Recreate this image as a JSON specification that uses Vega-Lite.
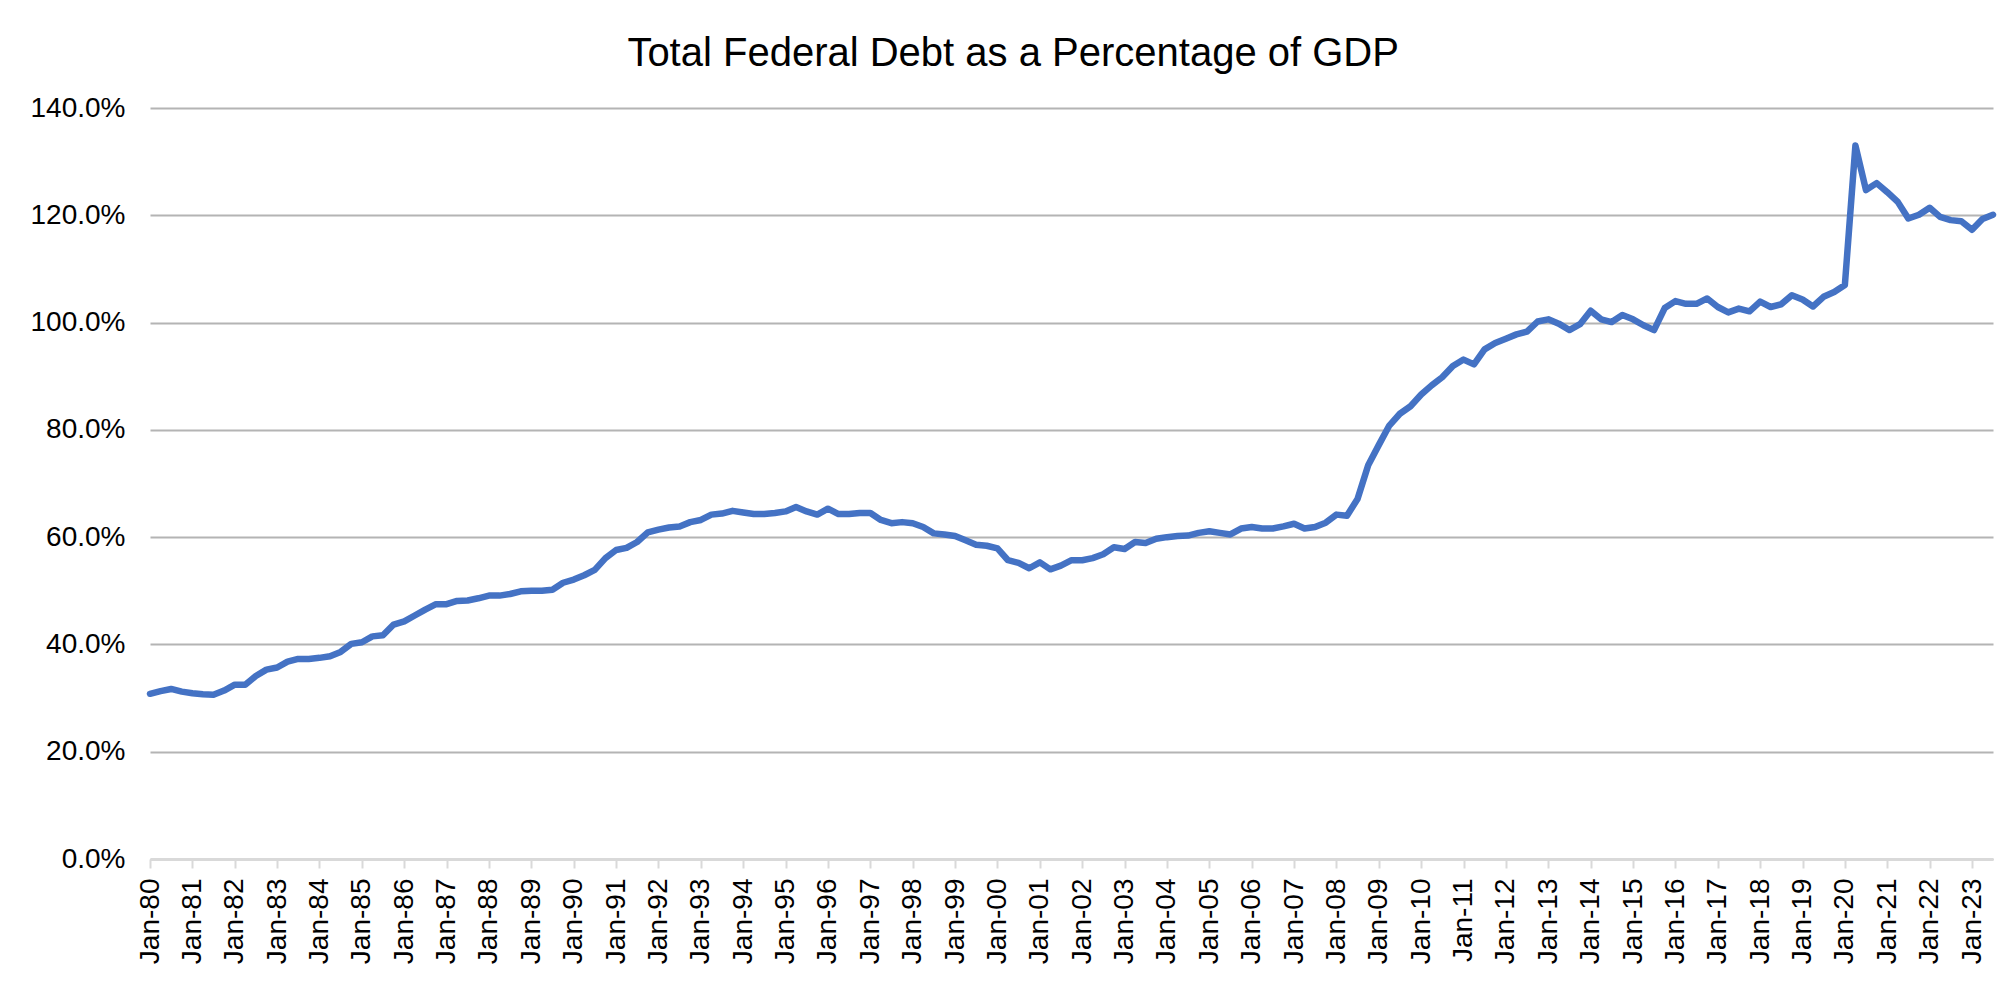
{
  "$schema": "https://vega.github.io/schema/vega-lite/v6.json",
  "width": 1843,
  "height": 751,
  "autosize": {"type": "none"},
  "padding": {"left": 150, "top": 108, "right": 17, "bottom": 122},
  "background": "white",
  "title": {
    "text": "Total Federal Debt as a Percentage of GDP",
    "font": "Liberation Sans",
    "fontSize": 40,
    "fontWeight": "normal",
    "color": "#000000",
    "anchor": "middle",
    "frame": "bounds",
    "offset": 20
  },
  "data": {
    "values": [
      {"date": "1980-01-01", "debt": 30.8}, {"date": "1980-04-01", "debt": 31.3}, {"date": "1980-07-01", "debt": 31.7}, {"date": "1980-10-01", "debt": 31.2},
      {"date": "1981-01-01", "debt": 30.9}, {"date": "1981-04-01", "debt": 30.7}, {"date": "1981-07-01", "debt": 30.6}, {"date": "1981-10-01", "debt": 31.4},
      {"date": "1982-01-01", "debt": 32.5}, {"date": "1982-04-01", "debt": 32.5}, {"date": "1982-07-01", "debt": 34.1}, {"date": "1982-10-01", "debt": 35.3},
      {"date": "1983-01-01", "debt": 35.7}, {"date": "1983-04-01", "debt": 36.8}, {"date": "1983-07-01", "debt": 37.3}, {"date": "1983-10-01", "debt": 37.3},
      {"date": "1984-01-01", "debt": 37.5}, {"date": "1984-04-01", "debt": 37.8}, {"date": "1984-07-01", "debt": 38.6}, {"date": "1984-10-01", "debt": 40.1},
      {"date": "1985-01-01", "debt": 40.4}, {"date": "1985-04-01", "debt": 41.5}, {"date": "1985-07-01", "debt": 41.7}, {"date": "1985-10-01", "debt": 43.7},
      {"date": "1986-01-01", "debt": 44.3}, {"date": "1986-04-01", "debt": 45.4}, {"date": "1986-07-01", "debt": 46.5}, {"date": "1986-10-01", "debt": 47.5},
      {"date": "1987-01-01", "debt": 47.5}, {"date": "1987-04-01", "debt": 48.1}, {"date": "1987-07-01", "debt": 48.2}, {"date": "1987-10-01", "debt": 48.6},
      {"date": "1988-01-01", "debt": 49.1}, {"date": "1988-04-01", "debt": 49.1}, {"date": "1988-07-01", "debt": 49.4}, {"date": "1988-10-01", "debt": 49.9},
      {"date": "1989-01-01", "debt": 50.0}, {"date": "1989-04-01", "debt": 50.0}, {"date": "1989-07-01", "debt": 50.2}, {"date": "1989-10-01", "debt": 51.5},
      {"date": "1990-01-01", "debt": 52.1}, {"date": "1990-04-01", "debt": 52.9}, {"date": "1990-07-01", "debt": 53.9}, {"date": "1990-10-01", "debt": 56.1},
      {"date": "1991-01-01", "debt": 57.6}, {"date": "1991-04-01", "debt": 58.0}, {"date": "1991-07-01", "debt": 59.1}, {"date": "1991-10-01", "debt": 60.9},
      {"date": "1992-01-01", "debt": 61.4}, {"date": "1992-04-01", "debt": 61.8}, {"date": "1992-07-01", "debt": 62.0}, {"date": "1992-10-01", "debt": 62.8},
      {"date": "1993-01-01", "debt": 63.2}, {"date": "1993-04-01", "debt": 64.2}, {"date": "1993-07-01", "debt": 64.4}, {"date": "1993-10-01", "debt": 64.9},
      {"date": "1994-01-01", "debt": 64.6}, {"date": "1994-04-01", "debt": 64.3}, {"date": "1994-07-01", "debt": 64.3}, {"date": "1994-10-01", "debt": 64.5},
      {"date": "1995-01-01", "debt": 64.8}, {"date": "1995-04-01", "debt": 65.6}, {"date": "1995-07-01", "debt": 64.8}, {"date": "1995-10-01", "debt": 64.2},
      {"date": "1996-01-01", "debt": 65.3}, {"date": "1996-04-01", "debt": 64.3}, {"date": "1996-07-01", "debt": 64.3}, {"date": "1996-10-01", "debt": 64.5},
      {"date": "1997-01-01", "debt": 64.5}, {"date": "1997-04-01", "debt": 63.2}, {"date": "1997-07-01", "debt": 62.6}, {"date": "1997-10-01", "debt": 62.8},
      {"date": "1998-01-01", "debt": 62.6}, {"date": "1998-04-01", "debt": 61.9}, {"date": "1998-07-01", "debt": 60.7}, {"date": "1998-10-01", "debt": 60.5},
      {"date": "1999-01-01", "debt": 60.2}, {"date": "1999-04-01", "debt": 59.4}, {"date": "1999-07-01", "debt": 58.6}, {"date": "1999-10-01", "debt": 58.4},
      {"date": "2000-01-01", "debt": 57.9}, {"date": "2000-04-01", "debt": 55.7}, {"date": "2000-07-01", "debt": 55.2}, {"date": "2000-10-01", "debt": 54.2},
      {"date": "2001-01-01", "debt": 55.3}, {"date": "2001-04-01", "debt": 54.0}, {"date": "2001-07-01", "debt": 54.7}, {"date": "2001-10-01", "debt": 55.7},
      {"date": "2002-01-01", "debt": 55.7}, {"date": "2002-04-01", "debt": 56.1}, {"date": "2002-07-01", "debt": 56.8}, {"date": "2002-10-01", "debt": 58.1},
      {"date": "2003-01-01", "debt": 57.8}, {"date": "2003-04-01", "debt": 59.1}, {"date": "2003-07-01", "debt": 58.9}, {"date": "2003-10-01", "debt": 59.7},
      {"date": "2004-01-01", "debt": 60.0}, {"date": "2004-04-01", "debt": 60.2}, {"date": "2004-07-01", "debt": 60.3}, {"date": "2004-10-01", "debt": 60.8},
      {"date": "2005-01-01", "debt": 61.1}, {"date": "2005-04-01", "debt": 60.8}, {"date": "2005-07-01", "debt": 60.5}, {"date": "2005-10-01", "debt": 61.6},
      {"date": "2006-01-01", "debt": 61.9}, {"date": "2006-04-01", "debt": 61.6}, {"date": "2006-07-01", "debt": 61.6}, {"date": "2006-10-01", "debt": 62.0},
      {"date": "2007-01-01", "debt": 62.5}, {"date": "2007-04-01", "debt": 61.6}, {"date": "2007-07-01", "debt": 61.9}, {"date": "2007-10-01", "debt": 62.7},
      {"date": "2008-01-01", "debt": 64.2}, {"date": "2008-04-01", "debt": 64.0}, {"date": "2008-07-01", "debt": 67.1}, {"date": "2008-10-01", "debt": 73.4},
      {"date": "2009-01-01", "debt": 77.2}, {"date": "2009-04-01", "debt": 80.8}, {"date": "2009-07-01", "debt": 83.0}, {"date": "2009-10-01", "debt": 84.4},
      {"date": "2010-01-01", "debt": 86.6}, {"date": "2010-04-01", "debt": 88.3}, {"date": "2010-07-01", "debt": 89.8}, {"date": "2010-10-01", "debt": 91.9},
      {"date": "2011-01-01", "debt": 93.1}, {"date": "2011-04-01", "debt": 92.2}, {"date": "2011-07-01", "debt": 95.0}, {"date": "2011-10-01", "debt": 96.2},
      {"date": "2012-01-01", "debt": 97.0}, {"date": "2012-04-01", "debt": 97.8}, {"date": "2012-07-01", "debt": 98.3}, {"date": "2012-10-01", "debt": 100.2},
      {"date": "2013-01-01", "debt": 100.6}, {"date": "2013-04-01", "debt": 99.8}, {"date": "2013-07-01", "debt": 98.6}, {"date": "2013-10-01", "debt": 99.7},
      {"date": "2014-01-01", "debt": 102.2}, {"date": "2014-04-01", "debt": 100.6}, {"date": "2014-07-01", "debt": 100.1}, {"date": "2014-10-01", "debt": 101.4},
      {"date": "2015-01-01", "debt": 100.6}, {"date": "2015-04-01", "debt": 99.5}, {"date": "2015-07-01", "debt": 98.6}, {"date": "2015-10-01", "debt": 102.7},
      {"date": "2016-01-01", "debt": 104.0}, {"date": "2016-04-01", "debt": 103.5}, {"date": "2016-07-01", "debt": 103.5}, {"date": "2016-10-01", "debt": 104.5},
      {"date": "2017-01-01", "debt": 102.9}, {"date": "2017-04-01", "debt": 101.9}, {"date": "2017-07-01", "debt": 102.6}, {"date": "2017-10-01", "debt": 102.1},
      {"date": "2018-01-01", "debt": 103.9}, {"date": "2018-04-01", "debt": 102.9}, {"date": "2018-07-01", "debt": 103.4}, {"date": "2018-10-01", "debt": 105.1},
      {"date": "2019-01-01", "debt": 104.3}, {"date": "2019-04-01", "debt": 103.0}, {"date": "2019-07-01", "debt": 104.8}, {"date": "2019-10-01", "debt": 105.7},
      {"date": "2020-01-01", "debt": 107.0}, {"date": "2020-04-01", "debt": 133.0}, {"date": "2020-07-01", "debt": 124.7}, {"date": "2020-10-01", "debt": 126.0},
      {"date": "2021-01-01", "debt": 124.3}, {"date": "2021-04-01", "debt": 122.5}, {"date": "2021-07-01", "debt": 119.4}, {"date": "2021-10-01", "debt": 120.1},
      {"date": "2022-01-01", "debt": 121.4}, {"date": "2022-04-01", "debt": 119.7}, {"date": "2022-07-01", "debt": 119.1}, {"date": "2022-10-01", "debt": 118.9},
      {"date": "2023-01-01", "debt": 117.3}, {"date": "2023-04-01", "debt": 119.3}, {"date": "2023-07-01", "debt": 120.1}
    ]
  },
  "mark": {"type": "line", "color": "#4472C4", "strokeWidth": 6.5, "strokeJoin": "round", "strokeCap": "round"},
  "encoding": {
    "x": {
      "field": "date",
      "type": "temporal",
      "scale": {"type": "utc", "nice": false},
      "axis": {
        "title": null,
        "labelExpr": "utcFormat(datum.value, '%b-%y')",
        "tickCount": {"interval": "year", "step": 1},
        "labelAngle": -90,
        "labelFont": "Liberation Sans",
        "labelFontSize": 28,
        "labelColor": "#000000",
        "labelPadding": 10,
        "labelOverlap": false,
        "labelFlush": false,
        "tickSize": 9,
        "tickColor": "#d9d9d9",
        "tickWidth": 2,
        "domainColor": "#d9d9d9",
        "domainWidth": 2,
        "grid": false
      }
    },
    "y": {
      "field": "debt",
      "type": "quantitative",
      "scale": {"domain": [0, 140], "nice": false},
      "axis": {
        "title": null,
        "values": [0, 20, 40, 60, 80, 100, 120, 140],
        "labelExpr": "format(datum.value, '.1f') + '%'",
        "labelFont": "Liberation Sans",
        "labelFontSize": 28,
        "labelColor": "#000000",
        "labelPadding": 25,
        "ticks": false,
        "domain": false,
        "gridColor": "#b4b4b4",
        "gridWidth": 2
      }
    }
  },
  "config": {"view": {"stroke": null}}
}
